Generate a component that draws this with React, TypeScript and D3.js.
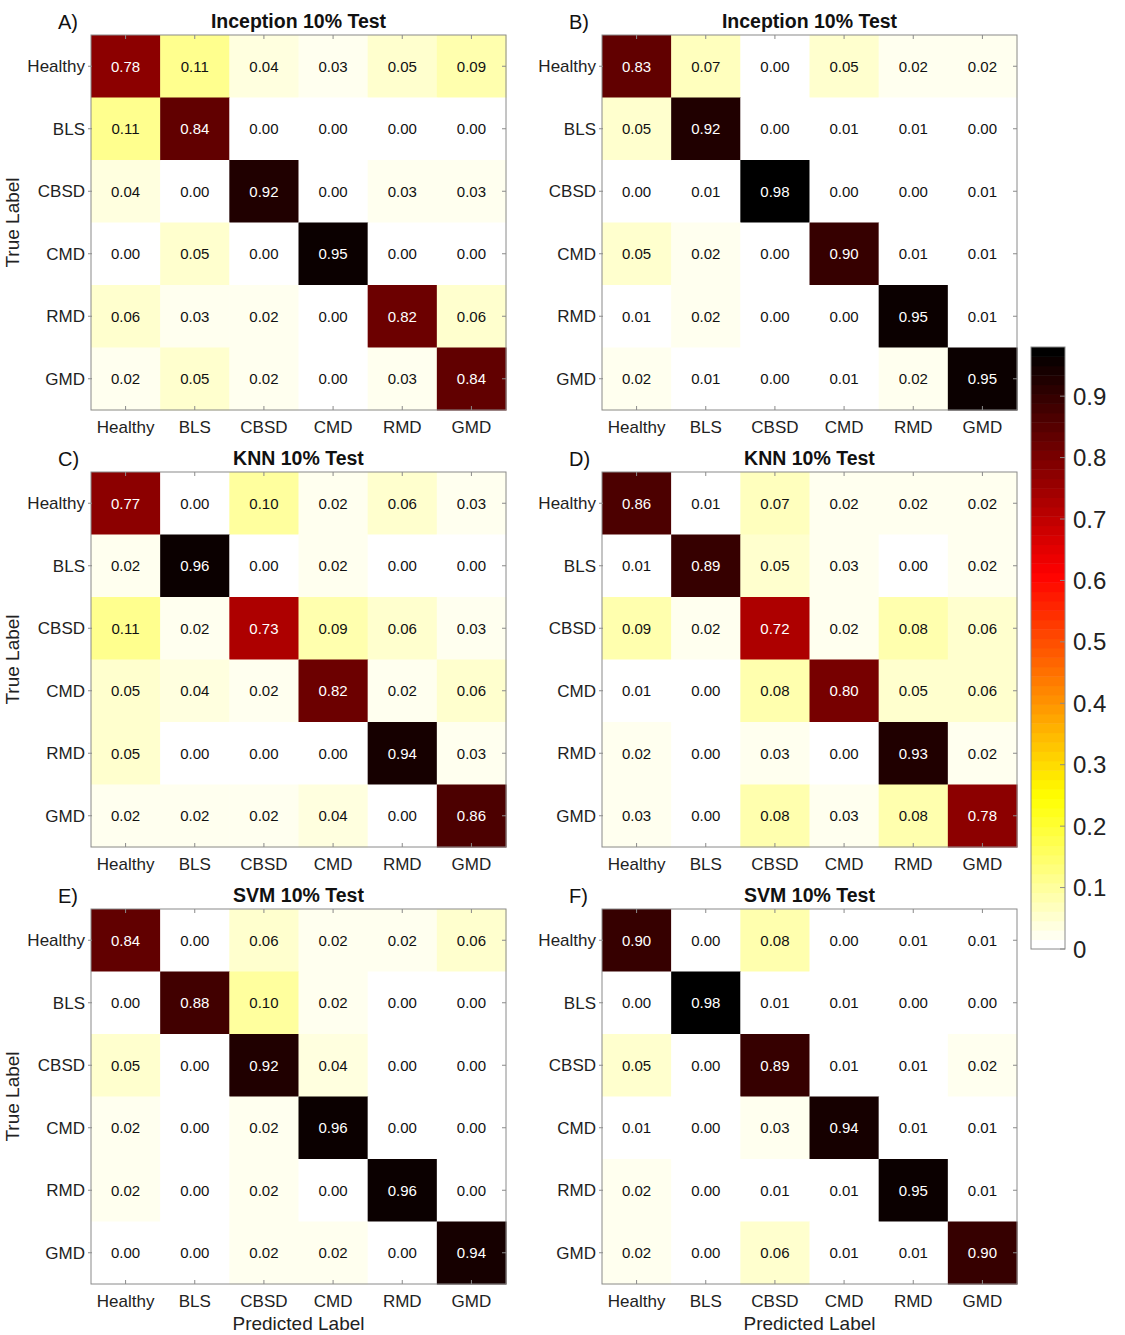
import React from "react";
import * as d3 from "d3";

const classes = ["Healthy", "BLS", "CBSD", "CMD", "RMD", "GMD"];
const panelLetters = ["A)", "B)", "C)", "D)", "E)", "F)"];
const panelTitles = ["Inception 10% Test", "Inception 10% Test", "KNN 10% Test", "KNN 10% Test", "SVM 10% Test", "SVM 10% Test"];

const matA = [
  [0.78, 0.11, 0.04, 0.03, 0.05, 0.09],
  [0.11, 0.84, 0.0, 0.0, 0.0, 0.0],
  [0.04, 0.0, 0.92, 0.0, 0.03, 0.03],
  [0.0, 0.05, 0.0, 0.95, 0.0, 0.0],
  [0.06, 0.03, 0.02, 0.0, 0.82, 0.06],
  [0.02, 0.05, 0.02, 0.0, 0.03, 0.84],
];
const matB = [
  [0.83, 0.07, 0.0, 0.05, 0.02, 0.02],
  [0.05, 0.92, 0.0, 0.01, 0.01, 0.0],
  [0.0, 0.01, 0.98, 0.0, 0.0, 0.01],
  [0.05, 0.02, 0.0, 0.9, 0.01, 0.01],
  [0.01, 0.02, 0.0, 0.0, 0.95, 0.01],
  [0.02, 0.01, 0.0, 0.01, 0.02, 0.95],
];
const matC = [
  [0.77, 0.0, 0.1, 0.02, 0.06, 0.03],
  [0.02, 0.96, 0.0, 0.02, 0.0, 0.0],
  [0.11, 0.02, 0.73, 0.09, 0.06, 0.03],
  [0.05, 0.04, 0.02, 0.82, 0.02, 0.06],
  [0.05, 0.0, 0.0, 0.0, 0.94, 0.03],
  [0.02, 0.02, 0.02, 0.04, 0.0, 0.86],
];
const matD = [
  [0.86, 0.01, 0.07, 0.02, 0.02, 0.02],
  [0.01, 0.89, 0.05, 0.03, 0.0, 0.02],
  [0.09, 0.02, 0.72, 0.02, 0.08, 0.06],
  [0.01, 0.0, 0.08, 0.8, 0.05, 0.06],
  [0.02, 0.0, 0.03, 0.0, 0.93, 0.02],
  [0.03, 0.0, 0.08, 0.03, 0.08, 0.78],
];
const matE = [
  [0.84, 0.0, 0.06, 0.02, 0.02, 0.06],
  [0.0, 0.88, 0.1, 0.02, 0.0, 0.0],
  [0.05, 0.0, 0.92, 0.04, 0.0, 0.0],
  [0.02, 0.0, 0.02, 0.96, 0.0, 0.0],
  [0.02, 0.0, 0.02, 0.0, 0.96, 0.0],
  [0.0, 0.0, 0.02, 0.02, 0.0, 0.94],
];
const matF = [
  [0.9, 0.0, 0.08, 0.0, 0.01, 0.01],
  [0.0, 0.98, 0.01, 0.01, 0.0, 0.0],
  [0.05, 0.0, 0.89, 0.01, 0.01, 0.02],
  [0.01, 0.0, 0.03, 0.94, 0.01, 0.01],
  [0.02, 0.0, 0.01, 0.01, 0.95, 0.01],
  [0.02, 0.0, 0.06, 0.01, 0.01, 0.9],
];
const matrices = [matA, matB, matC, matD, matE, matF];
const colorbarTicks = [0, 0.1, 0.2, 0.3, 0.4, 0.5, 0.6, 0.7, 0.8, 0.9];
const vmax = 0.98;

const FONT = "'Liberation Sans', Arial, Helvetica, sans-serif";
const AXIS = "#8a8a8a";

function hotInv(v: number): string {
  const levels = 64;
  let t = Math.min(1, Math.max(0, v / vmax));
  t = Math.min(levels - 1, Math.floor(t * levels)) / (levels - 1);
  const u = 1 - t; // hot: 0 black -> 1 white
  const r = Math.min(1, u / (3 / 8));
  const g = Math.min(1, Math.max(0, (u - 3 / 8) / (3 / 8)));
  const b = Math.min(1, Math.max(0, (u - 6 / 8) / (2 / 8)));
  return d3.rgb(r * 255, g * 255, b * 255).formatHex();
}

const colX = [91, 602];
const rowY = [35, 472, 909];
const PW = 415;
const PH = 375;

function Panel({ idx }: { idx: number }) {
  const col = idx % 2;
  const row = Math.floor(idx / 2);
  const x0 = colX[col];
  const y0 = rowY[row];
  const mat = matrices[idx];
  const xs = d3.scaleBand<string>().domain(classes).range([x0, x0 + PW]);
  const ys = d3.scaleBand<string>().domain(classes).range([y0, y0 + PH]);
  const bw = xs.bandwidth();
  const bh = ys.bandwidth();
  return (
    <g>
      {mat.map((r, i) =>
        r.map((v, j) => (
          <rect
            key={`c${i}-${j}`}
            x={xs(classes[j])}
            y={ys(classes[i])}
            width={bw + 0.5}
            height={bh + 0.5}
            fill={hotInv(v)}
          />
        ))
      )}
      {mat.map((r, i) =>
        r.map((v, j) => (
          <text
            key={`t${i}-${j}`}
            x={(xs(classes[j]) as number) + bw / 2}
            y={(ys(classes[i]) as number) + bh / 2}
            dy="0.36em"
            textAnchor="middle"
            fontSize={15}
            fontFamily={FONT}
            fill={v > 0.5 ? "#ffffff" : "#111111"}
          >
            {v.toFixed(2)}
          </text>
        ))
      )}
      <rect x={x0} y={y0} width={PW} height={PH} fill="none" stroke={AXIS} strokeWidth={1} />
      {classes.map((c) => {
        const cx = (xs(c) as number) + bw / 2;
        const cy = (ys(c) as number) + bh / 2;
        return (
          <g key={`k${c}`}>
            <line x1={cx} x2={cx} y1={y0} y2={y0 + 4} stroke={AXIS} />
            <line x1={cx} x2={cx} y1={y0 + PH} y2={y0 + PH - 4} stroke={AXIS} />
            <line x1={x0 - 3} x2={x0 + 1} y1={cy} y2={cy} stroke={AXIS} />
            <line x1={x0 + PW - 4} x2={x0 + PW} y1={cy} y2={cy} stroke={AXIS} />
            <text x={cx} y={y0 + PH + 23} textAnchor="middle" fontSize={17} fontFamily={FONT} fill="#222">
              {c}
            </text>
            <text x={x0 - 6} y={cy} dy="0.36em" textAnchor="end" fontSize={17} fontFamily={FONT} fill="#222">
              {c}
            </text>
          </g>
        );
      })}
      <text
        x={x0 + PW / 2}
        y={y0 - 7}
        textAnchor="middle"
        fontSize={19.5}
        fontWeight="bold"
        fontFamily={FONT}
        fill="#111"
      >
        {panelTitles[idx]}
      </text>
      <text x={x0 - 33} y={y0 - 6} fontSize={20} fontFamily={FONT} fill="#111">
        {panelLetters[idx]}
      </text>
      {col === 0 && (
        <text
          transform={`translate(19,${y0 + PH / 2}) rotate(-90)`}
          textAnchor="middle"
          fontSize={19}
          fontFamily={FONT}
          fill="#222"
        >
          True Label
        </text>
      )}
      {row === 2 && (
        <text x={x0 + PW / 2} y={y0 + PH + 46} textAnchor="middle" fontSize={19} fontFamily={FONT} fill="#222">
          Predicted Label
        </text>
      )}
    </g>
  );
}

function Colorbar() {
  const cbX = 1031;
  const cbW = 34;
  const yScale = d3.scaleLinear().domain([0, vmax]).range([949, 347]);
  const steps = d3.range(64);
  return (
    <g>
      {steps.map((s) => {
        const a = (s / 64) * vmax;
        const b = ((s + 1) / 64) * vmax;
        return (
          <rect
            key={s}
            x={cbX}
            y={yScale(b)}
            width={cbW}
            height={yScale(a) - yScale(b) + 0.5}
            fill={hotInv((a + b) / 2)}
          />
        );
      })}
      <rect x={cbX} y={yScale(vmax)} width={cbW} height={yScale(0) - yScale(vmax)} fill="none" stroke={AXIS} />
      {colorbarTicks.map((t) => (
        <g key={t}>
          <line x1={cbX + cbW - 5} x2={cbX + cbW} y1={yScale(t)} y2={yScale(t)} stroke={AXIS} />
          <text
            x={cbX + cbW + 8}
            y={yScale(t)}
            dy="0.36em"
            fontSize={24}
            fontFamily={FONT}
            fill="#222"
          >
            {t === 0 ? "0" : t.toFixed(1)}
          </text>
        </g>
      ))}
    </g>
  );
}

export default function App() {
  return (
    <svg
      width={1125}
      height={1335}
      style={{ position: "absolute", left: 0, top: 0, background: "#fff" }}
    >
      <rect x={0} y={0} width={1125} height={1335} fill="#fff" />
      {matrices.map((_, i) => (
        <Panel key={i} idx={i} />
      ))}
      <Colorbar />
    </svg>
  );
}
